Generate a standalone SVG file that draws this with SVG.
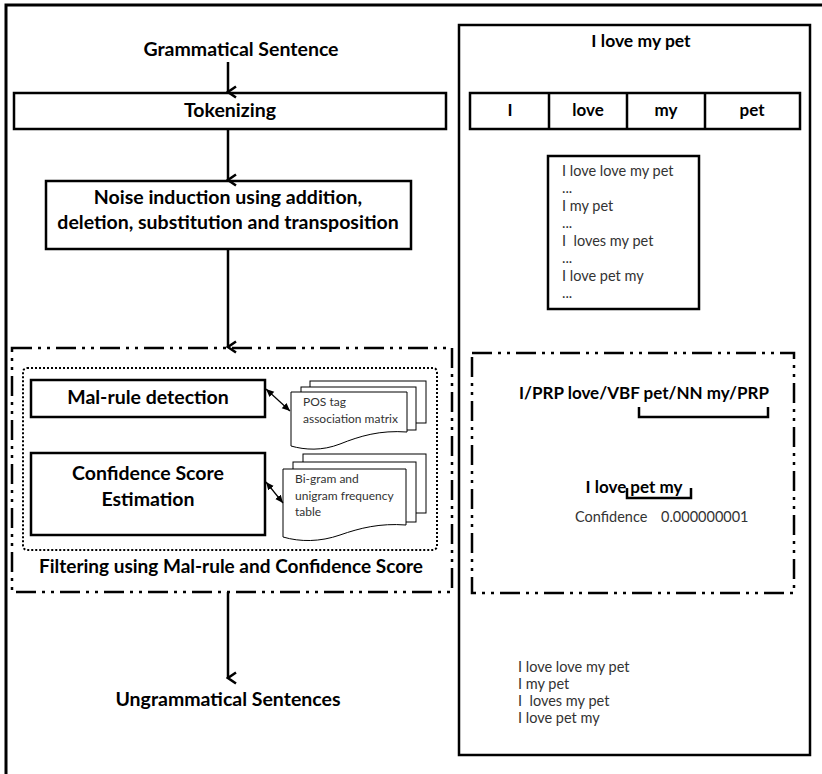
<svg xmlns="http://www.w3.org/2000/svg" width="822" height="774" viewBox="0 0 822 774">
<style>
.b{font-family:Lato,"Liberation Sans",sans-serif;font-weight:bold;fill:#000}
.r{font-family:Lato,"Liberation Sans",sans-serif;fill:#333;font-size:14.5px;white-space:pre}
.s{font-size:12px}
.box{fill:#fff;stroke:#000;stroke-width:2.5}
.dd{fill:none;stroke:#000;stroke-width:2.5;stroke-dasharray:20 6 3 6 3 6}
.dot{fill:none;stroke:#000;stroke-width:2;stroke-dasharray:2 2}
.doc{fill:#fff;stroke:#000;stroke-width:1}
.ln{fill:none;stroke:#000;stroke-width:2.5}
.thin{fill:none;stroke:#000;stroke-width:1.2}
</style>
<defs>
<marker id="ah" markerWidth="14" markerHeight="12" viewBox="-7 -10 14 12" refX="0" refY="0" orient="auto" markerUnits="userSpaceOnUse">
<path d="M-5.5,-8 L0,0 L5.5,-8" fill="none" stroke="#000" stroke-width="2.5"/>
</marker>
<marker id="sa" markerWidth="8" markerHeight="8" viewBox="0 -4 8 8" refX="8" refY="0" orient="auto-start-reverse" markerUnits="userSpaceOnUse">
<path d="M0,-3.5 L8,0 L0,3.5 z" fill="#000"/>
</marker>
</defs>
<rect width="822" height="774" fill="#fff"/>
<path d="M6,774 V5 H822" fill="none" stroke="#000" stroke-width="3"/>

<g id="grammatical">
<text class="b" x="241" y="56" font-size="19.5" text-anchor="middle">Grammatical Sentence</text>
</g>
<g id="tokenizing">
<rect class="box" x="14" y="93" width="432" height="36"/>
<text class="b" x="230" y="117" font-size="19.5" text-anchor="middle">Tokenizing</text>
</g>
<g id="noise">
<rect class="box" x="46" y="181" width="365" height="68"/>
<text class="b" x="228" y="204" font-size="19.5" text-anchor="middle">Noise induction using addition,</text>
<text class="b" x="228" y="229" font-size="19.5" text-anchor="middle">deletion, substitution and transposition</text>
</g>
<g id="filtering">
<rect class="dd" x="12" y="348" width="440" height="244"/>
<rect class="dot" x="23" y="368" width="414" height="182" rx="4"/>
<text class="b" x="231" y="573" font-size="19" text-anchor="middle">Filtering using Mal-rule and Confidence Score</text>
</g>
<g id="malrule">
<rect class="box" x="31" y="380" width="234" height="37"/>
<text class="b" x="148" y="404" font-size="19.5" text-anchor="middle">Mal-rule detection</text>
</g>
<g id="confidence">
<rect class="box" x="31" y="453" width="234" height="82"/>
<text class="b" x="148" y="480" font-size="19.5" text-anchor="middle">Confidence Score</text>
<text class="b" x="148" y="506" font-size="19.5" text-anchor="middle">Estimation</text>
</g>
<g id="posdoc">
<rect class="doc" x="310" y="381" width="116" height="42"/>
<rect class="doc" x="301" y="387" width="115" height="43"/>
<path class="doc" d="M291,392 H407 V432 C380,430 360,436 340,444 C322,451 305,450 291,446 Z"/>
<text class="r s" x="303" y="406">POS tag</text>
<text class="r s" x="303" y="423">association matrix</text>
</g>
<g id="bigramdoc">
<rect class="doc" x="303" y="454" width="123" height="59"/>
<rect class="doc" x="293" y="462" width="123" height="60"/>
<path class="doc" d="M283,469 H406 V525 C380,523 360,528 340,535 C320,542 300,542 283,537 Z"/>
<text class="r s" x="295" y="483">Bi-gram and</text>
<text class="r s" x="295" y="500">unigram frequency</text>
<text class="r s" x="295" y="516">table</text>
</g>
<g id="ungrammatical">
<text class="b" x="228" y="706" font-size="19.5" text-anchor="middle">Ungrammatical Sentences</text>
</g>

<g id="example">
<rect class="box" x="459" y="25" width="351" height="730"/>
<text class="b" x="641" y="47" font-size="17.5" text-anchor="middle">I love my pet</text>
</g>
<g id="tokens">
<rect class="box" x="470" y="93" width="330" height="36"/>
<path class="ln" d="M549,93 V129 M627,93 V129 M705,93 V129"/>
<text class="b" x="510" y="116" font-size="17" text-anchor="middle">I</text>
<text class="b" x="588" y="116" font-size="17" text-anchor="middle">love</text>
<text class="b" x="666" y="116" font-size="17" text-anchor="middle">my</text>
<text class="b" x="752" y="116" font-size="17" text-anchor="middle">pet</text>
</g>
<g id="variants">
<rect class="box" x="548" y="156" width="151" height="153"/>
<text class="r" x="562" y="176">I love love my pet</text>
<text class="r" x="562" y="193">...</text>
<text class="r" x="562" y="211">I my pet</text>
<text class="r" x="562" y="228">...</text>
<text class="r" x="562" y="246">I  loves my pet</text>
<text class="r" x="562" y="263">...</text>
<text class="r" x="562" y="281">I love pet my</text>
<text class="r" x="562" y="298">...</text>
</g>
<g id="filterexample">
<rect class="dd" x="472" y="353" width="322" height="240"/>
<text class="b" x="644" y="399" font-size="17" text-anchor="middle">I/PRP love/VBF pet/NN my/PRP</text>
<path class="ln" d="M639,407 V417 H768 V407"/>
<text class="b" x="634" y="493" font-size="17" text-anchor="middle">I love pet my</text>
<path class="ln" d="M627,488 V498 H691 V488"/>
<text class="r" x="575" y="522">Confidence</text>
<text class="r" x="661" y="522">0.000000001</text>
</g>
<g id="results">
<text class="r" x="518" y="672">I love love my pet</text>
<text class="r" x="518" y="689">I my pet</text>
<text class="r" x="518" y="706">I  loves my pet</text>
<text class="r" x="518" y="723">I love pet my</text>
</g>

<g id="connectors">
<line class="ln" x1="228" y1="62" x2="228" y2="92" marker-end="url(#ah)"/>
<line class="ln" x1="228" y1="129" x2="228" y2="180" marker-end="url(#ah)"/>
<line class="ln" x1="228" y1="249" x2="228" y2="347" marker-end="url(#ah)"/>
<line class="ln" x1="228" y1="592" x2="228" y2="678" marker-end="url(#ah)"/>
<line class="thin" x1="266" y1="389" x2="290" y2="411" marker-start="url(#sa)" marker-end="url(#sa)"/>
<line class="thin" x1="266" y1="482" x2="283" y2="503" marker-start="url(#sa)" marker-end="url(#sa)"/>
</g>
</svg>
